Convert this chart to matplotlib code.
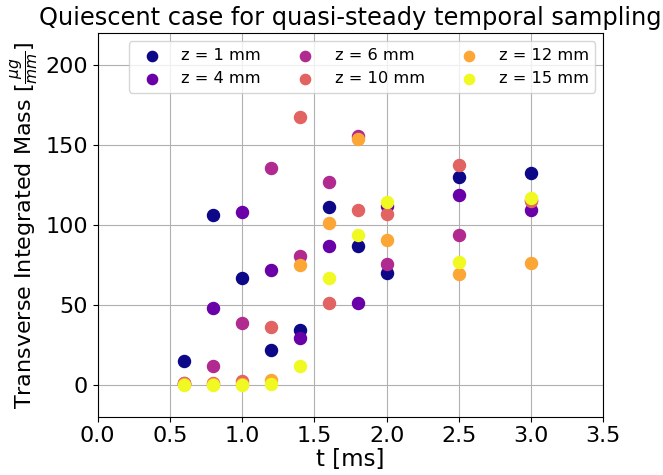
import matplotlib
matplotlib.use("Agg")
import matplotlib.pyplot as plt
import numpy as np

t_ms = [0.6, 0.8, 1.0, 1.2, 1.4, 1.6, 1.8, 2.0, 2.5, 3.0]
labels = ["z = 1 mm", "z = 4 mm", "z = 6 mm", "z = 10 mm", "z = 12 mm", "z = 15 mm"]
z1 = [14.6, 106.5, 66.8, 21.5, 34.0, 111.0, 86.6, 69.7, 130.3, 132.6]
z4 = [0.3, 48.0, 108.2, 71.8, 29.2, 87.0, 50.9, 111.7, 119.0, 109.6]
z6 = [0.8, 11.9, 38.4, 135.9, 80.6, 127.0, 155.5, 75.3, 94.0, 115.5]
z10 = [0.8, 0.8, 2.3, 36.1, 167.7, 50.9, 109.2, 107.1, 137.8, 114.8]
z12 = [0.2, 0.3, 0.4, 2.9, 74.7, 101.3, 154.0, 90.6, 69.1, 76.4]
z15 = [0.0, 0.0, 0.0, 0.6, 11.9, 66.8, 94.0, 114.4, 76.8, 116.7]
series = [z1, z4, z6, z10, z12, z15]

fig = plt.figure(figsize=(6.63, 4.75), dpi=100)
ax = fig.add_axes([0.1474, 0.1227, 0.9100 - 0.1474, 0.9299 - 0.1227])

colors = plt.cm.plasma(np.linspace(0, 1, len(series)))
for vals, lab, c in zip(series, labels, colors):
    ax.scatter(t_ms, vals, s=75, color=c, label=lab, zorder=3)

ax.set_xlim(0, 3.5)
ax.set_ylim(-20, 220)
ax.set_xticks(np.arange(0, 3.51, 0.5))
ax.set_yticks([0, 50, 100, 150, 200])
ax.grid(True, color="#b0b0b0", linewidth=0.8, zorder=0)
ax.set_axisbelow(True)
ax.tick_params(labelsize=16)
ax.set_xlabel("t [ms]", fontsize=16.5, labelpad=1)
ax.set_ylabel(r"Transverse Integrated Mass [$\frac{\mu g}{mm}$]", fontsize=16, labelpad=4)
ax.set_title("Quiescent case for quasi-steady temporal sampling", fontsize=17.4)
ax.legend(ncol=3, loc="upper right", fontsize=11.7, markerscale=0.85,
          columnspacing=1.75)

fig.savefig("out.png", dpi=100)
